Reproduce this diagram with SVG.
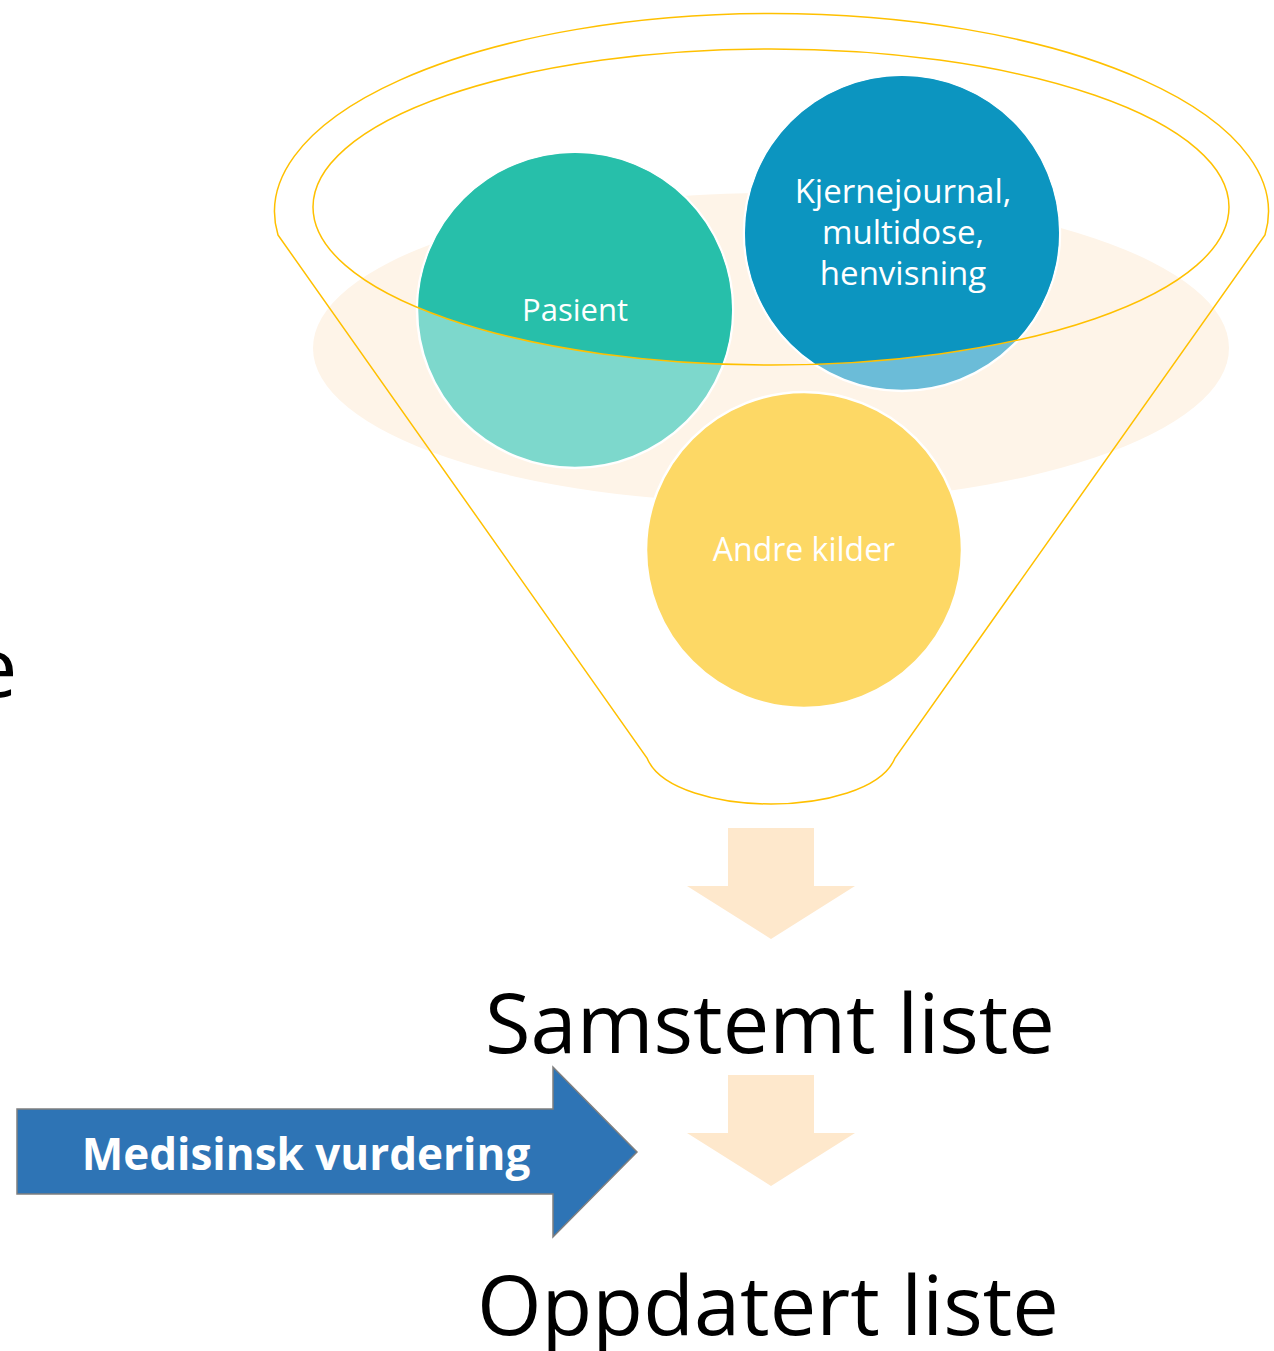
<svg xmlns="http://www.w3.org/2000/svg" width="1274" height="1351" viewBox="0 0 1274 1351">
  <style>
    .src { stroke: #ffffff; stroke-width: 2.5; }
    .lbl { font-family: "Open Sans", "Noto Sans", sans-serif; fill: #ffffff; font-size: 32px; text-anchor: middle; }
    .big { font-family: "Open Sans", "Noto Sans", sans-serif; fill: #000000; font-size: 83px; text-anchor: middle; }
    .rim { fill: none; stroke: #FFC000; stroke-width: 1.5; }
    .step { fill: #FEE8CC; }
  </style>
  <defs>
    <clipPath id="mouth">
      <ellipse cx="771" cy="207" rx="458" ry="158"/>
    </clipPath>
  </defs>

  <rect width="1274" height="1351" fill="#ffffff"/>

  <!-- cut-off text at the left edge -->
  <text class="big" x="-6" y="697">e</text>

  <!-- soft glow behind the funnel mouth -->
  <ellipse cx="771" cy="348" rx="458" ry="155" fill="#FEF4E8"/>

  <!-- funnel body outline -->
  <path class="rim" d="M 278 235 L 647 758 C 660 790 720 804 771 804 C 822 804 882 790 895 758 L 1265 235 A 497 198 0 1 0 278 235 Z"/>

  <g id="node-pasient">
    <circle class="src" cx="575" cy="310" r="158" fill="#7DD8CC"/>
    <circle cx="575" cy="310" r="157" fill="#27BFAA" clip-path="url(#mouth)"/>
    <text class="lbl" x="575" y="321" style="font-size:31px">Pasient</text>
  </g>

  <g id="node-kjernejournal">
    <circle class="src" cx="902" cy="233" r="158" fill="#6BBCD8"/>
    <circle cx="902" cy="233" r="157" fill="#0C95C0" clip-path="url(#mouth)"/>
    <text class="lbl" x="903" y="203" style="font-size:33px">Kjernejournal,</text>
    <text class="lbl" x="903" y="244" style="font-size:33px">multidose,</text>
    <text class="lbl" x="903" y="285" style="font-size:33px">henvisning</text>
  </g>

  <g id="node-andre">
    <circle class="src" cx="804" cy="550" r="158" fill="#FDD865"/>
    <text class="lbl" x="804" y="561">Andre kilder</text>
  </g>

  <!-- inner rim of the funnel mouth, drawn over the sources -->
  <ellipse class="rim" cx="771" cy="207" rx="458" ry="158"/>

  <g id="connectors">
    <polygon class="step" points="728,828 814,828 814,886 855,886 771,939 687,886 728,886"/>
    <polygon class="step" points="728,1075 814,1075 814,1133 855,1133 771,1186 687,1133 728,1133"/>
  </g>

  <g id="node-samstemt">
    <text class="big" x="770" y="1053">Samstemt liste</text>
  </g>

  <g id="node-oppdatert">
    <text class="big" x="768" y="1335">Oppdatert liste</text>
  </g>

  <g id="node-vurdering">
    <polygon points="17,1109 553,1109 553,1067 637,1152 553,1237 553,1194 17,1194" fill="#2E74B5" stroke="#7F7F7F" stroke-width="1.5"/>
    <text x="306" y="1170" font-family="Open Sans, Noto Sans, sans-serif" font-weight="bold" font-size="44" fill="#ffffff" text-anchor="middle">Medisinsk vurdering</text>
  </g>
</svg>
